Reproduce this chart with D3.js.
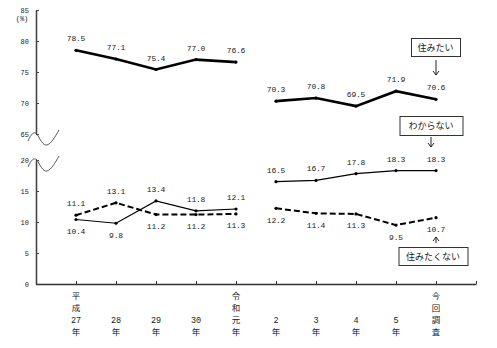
<!DOCTYPE html>
<html><head><meta charset="utf-8">
<script src="https://cdn.jsdelivr.net/npm/d3@7"></script>
<style>
body{margin:0;background:#fff;}
svg{display:block;}
</style></head>
<body>
<svg id="c" width="497" height="348"></svg>
<script>
// ---- data ----
const categories = [["平","成","27","年"],["28","年"],["29","年"],["30","年"],["令","和","元","年"],
                    ["2","年"],["3","年"],["4","年"],["5","年"],["今","回","調","査"]];
const sumitai     = [78.5, 77.1, 75.4, 77.0, 76.6, 70.3, 70.8, 69.5, 71.9, 70.6];
const wakaranai   = [10.4, 9.8, 13.4, 11.8, 12.1, 16.5, 16.7, 17.8, 18.3, 18.3];
const sumitakunai = [11.1, 13.1, 11.2, 11.2, 11.3, 12.2, 11.4, 11.3, 9.5, 10.7];
const segments = [[0,4],[5,9]];
const upperTicks = [65, 70, 75, 80, 85];
const lowerTicks = [0, 5, 10, 15, 20];
const seriesNames = ["住みたい", "わからない", "住みたくない"];

const svg = d3.select("#c");
const numFont = "'Liberation Mono', 'DejaVu Sans Mono', monospace";
const jpFont = "'Noto Sans CJK JP', sans-serif";
const ink = "#222";

const x = d3.scaleLinear().domain([-1, 10]).range([36, 476]);
const yU = d3.scaleLinear().domain([65, 85]).range([134, 10]);
const yL = d3.scaleLinear().domain([0, 20]).range([284, 160]);

// axes
const axU = svg.append("g").attr("transform","translate(36,0)")
  .call(d3.axisLeft(yU).tickValues(upperTicks).tickSize(-3).tickPadding(7).tickSizeOuter(0));
const axL = svg.append("g").attr("transform","translate(36,0)")
  .call(d3.axisLeft(yL).tickValues(lowerTicks).tickSize(-3).tickPadding(7).tickSizeOuter(0));
[axU, axL].forEach(a => {
  a.select(".domain").attr("stroke", "#444").attr("stroke-width", 1.6);
  a.selectAll(".tick line").attr("stroke", "#444");
  a.selectAll(".tick text").attr("font-family", numFont).attr("font-size", 7).attr("fill", ink);
});
svg.append("text").attr("x", 22).attr("y", 21).attr("text-anchor","middle")
  .attr("font-family", numFont).attr("font-size", 7).attr("fill", ink).text("(%)");

const axX = svg.append("g").attr("transform", `translate(0,${yL(0)})`)
  .call(d3.axisBottom(x).tickValues(d3.range(0, 11)).tickSize(-3).tickSizeOuter(0).tickFormat(""));
axX.select(".domain").attr("stroke", "#333").attr("stroke-width", 1.6);
axX.selectAll(".tick line").attr("stroke", "#333").attr("stroke-width", 1);

// category labels (vertical stacks, bottom aligned)
categories.forEach((lines, i) => {
  const n = lines.length;
  lines.forEach((t, j) => {
    svg.append("text").attr("x", x(i)).attr("y", 335 - (n - 1 - j) * 12)
      .attr("text-anchor", "middle")
      .attr("font-family", /\d/.test(t) ? numFont : jpFont)
      .attr("font-size", 8.5).attr("fill", ink).text(t);
  });
});

// break waves
const wave = "M28,141 C31,134 34,131 37,134 C40,139 43,146 47,145 C51,144 55,137 59,130";
svg.append("path").attr("d", wave).attr("fill","none").attr("stroke","#555").attr("stroke-width",1);
svg.append("path").attr("d", wave).attr("transform", `translate(0,${yL(20) - yU(65)})`)
  .attr("fill","none").attr("stroke","#555").attr("stroke-width",1);

// series
function drawSeries(vals, y, width, dash) {
  segments.forEach(([a, b]) => {
    const idx = d3.range(a, b + 1);
    svg.append("path").datum(idx)
      .attr("d", d3.line().x(i => x(i)).y(i => y(vals[i])))
      .attr("fill","none").attr("stroke","#000").attr("stroke-width", width)
      .attr("stroke-dasharray", dash || null);
    svg.selectAll(null).data(idx).enter().append("circle")
      .attr("cx", i => x(i)).attr("cy", i => y(vals[i])).attr("r", 1.6).attr("fill","#000");
  });
}
drawSeries(sumitai, yU, 2.6);
drawSeries(wakaranai, yL, 1.2);
drawSeries(sumitakunai, yL, 2, "6,3");

function label(i, v, y, above) {
  svg.append("text").attr("x", x(i)).attr("y", above ? y(v) - 9 : y(v) + 14.5)
    .attr("text-anchor","middle").attr("font-family", numFont).attr("font-size", 8)
    .attr("fill", ink).attr("letter-spacing", -0.2).text(v.toFixed(1));
}
sumitai.forEach((v, i) => label(i, v, yU, true));
wakaranai.forEach((v, i) => label(i, v, yL, v > sumitakunai[i]));
sumitakunai.forEach((v, i) => label(i, v, yL, v > wakaranai[i]));

// annotation boxes
const last = categories.length - 1;
function box(cx, cy, w, h, text) {
  svg.append("rect").attr("x", cx - w/2 + 0.5).attr("y", cy - h/2 + 0.5).attr("width", w).attr("height", h)
    .attr("fill","#fff").attr("stroke","#333").attr("stroke-width", 1);
  svg.append("text").attr("x", cx).attr("y", cy + 3.5).attr("text-anchor","middle")
    .attr("font-family", jpFont).attr("font-size", 9).attr("fill", ink).text(text);
}
function arrow(ax, y1, y2) {
  const dir = y2 > y1 ? 1 : -1;
  svg.append("path").attr("d", `M${ax},${y1} L${ax},${y2} M${ax-3},${y2 - dir*4} L${ax},${y2} L${ax+3},${y2 - dir*4}`)
    .attr("fill","none").attr("stroke","#222").attr("stroke-width",1);
}
box(x(last) - 0.5, 47, 49, 18, seriesNames[0]);
arrow(x(last), 60, 75);
box(x(last) - 5, 125.5, 63, 19, seriesNames[1]);
arrow(x(last) - 5, 137, 147);
box(x(last) - 3, 256, 69, 18, seriesNames[2]);
arrow(x(last), 243, 237);
</script>
</body></html>
